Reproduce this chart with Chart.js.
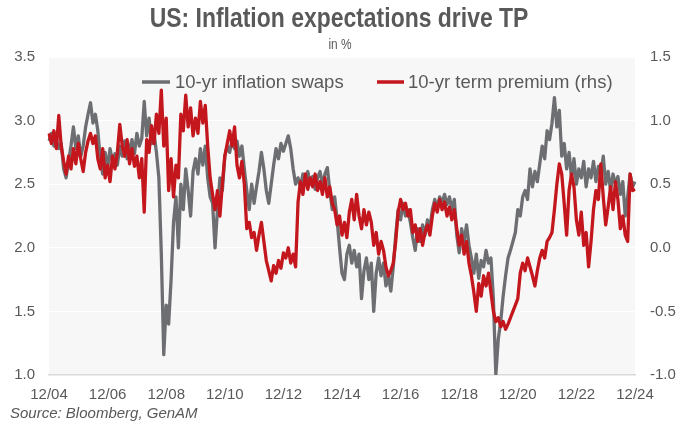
<!DOCTYPE html>
<html><head><meta charset="utf-8">
<script src="https://cdn.jsdelivr.net/npm/chart.js@4.4.1/dist/chart.umd.min.js"></script>
<style>html,body{margin:0;padding:0;background:#fff}</style>
</head><body>
<canvas id="c" width="677" height="425"></canvas>
<script>
const titleText = "US: Inflation expectations drive TP";
const subtitleText = "in %";
const sourceText = "Source: Bloomberg, GenAM";
const seriesNames = ["10-yr inflation swaps", "10-yr term premium (rhs)"];
const tickEvery = 24; // months between x tick labels

// 10-yr inflation swaps (lhs, %), monthly from 12/04 to 12/24
const inflationSwaps = [
2.84,2.90,2.80,2.86,2.78,2.82,2.62,2.55,2.68,2.80,
2.95,2.78,2.88,2.72,2.80,2.95,3.05,3.14,2.98,3.05,
2.92,2.70,2.58,2.75,2.62,2.78,2.68,2.74,2.65,2.80,
2.72,2.84,2.70,2.78,2.85,2.74,2.90,2.80,2.86,3.15,
2.88,3.02,2.82,2.90,2.75,2.55,1.95,1.16,1.55,1.40,
1.75,2.20,2.40,2.00,2.50,2.30,2.62,2.45,2.25,2.60,
2.70,2.58,2.78,2.65,2.80,2.55,2.40,2.35,2.00,2.30,
2.55,2.45,2.72,2.80,2.75,2.85,2.78,2.84,2.72,2.80,
2.62,2.45,2.30,2.50,2.35,2.48,2.60,2.75,2.62,2.45,
2.35,2.50,2.65,2.78,2.70,2.82,2.76,2.82,2.88,2.78,
2.62,2.50,2.55,2.48,2.58,2.52,2.60,2.50,2.56,2.46,
2.55,2.60,2.50,2.58,2.63,2.45,2.30,2.40,2.22,2.00,
1.80,1.75,1.95,2.02,1.88,1.98,1.85,1.95,1.60,1.82,
1.92,1.75,1.88,1.50,1.80,1.92,1.78,1.88,1.70,1.78,
1.66,1.85,2.10,2.30,2.22,2.35,2.25,2.30,2.20,2.08,
1.98,2.15,2.05,2.18,2.10,2.22,2.15,2.30,2.38,2.32,
2.40,2.35,2.42,2.34,2.40,2.30,2.38,2.10,1.96,2.15,
2.05,2.18,2.02,1.92,1.80,1.95,1.76,1.90,1.85,1.98,
1.88,1.92,1.60,1.00,1.28,1.42,1.62,1.78,1.92,1.98,
2.05,2.12,2.30,2.25,2.40,2.45,2.38,2.62,2.48,2.60,
2.52,2.66,2.80,2.70,2.92,2.85,2.98,3.18,2.95,3.08,
2.72,2.82,2.62,2.75,2.55,2.70,2.50,2.62,2.55,2.68,
2.48,2.62,2.55,2.68,2.52,2.64,2.58,2.72,2.50,2.60,
2.45,2.58,2.50,2.56,2.42,2.52,2.25,2.40,2.58,2.48,2.52
];

// 10-yr term premium (rhs, %), monthly from 12/04 to 12/24
const termPremium = [
0.90,0.82,0.92,0.78,1.04,0.80,0.68,0.58,0.72,0.62,
0.78,0.66,0.82,0.70,0.60,0.75,0.84,0.90,0.82,0.88,
0.70,0.62,0.78,0.55,0.65,0.52,0.72,0.62,0.75,0.97,
0.80,0.72,0.85,0.66,0.78,0.64,0.72,0.55,0.70,0.28,
0.85,0.75,0.96,0.82,1.05,0.90,1.24,0.80,1.02,0.45,
0.70,0.40,0.65,0.55,1.05,0.92,1.20,0.95,1.10,0.88,
1.02,0.90,1.15,0.98,1.12,0.80,0.55,0.42,0.30,0.45,
0.25,0.50,0.72,0.82,0.92,0.80,0.95,0.65,0.55,0.68,
0.50,0.15,0.20,0.08,0.12,-0.02,0.10,0.20,0.05,-0.10,
-0.18,-0.26,-0.14,-0.20,-0.10,-0.16,-0.04,-0.08,0.00,-0.12,
-0.05,-0.15,0.36,0.52,0.42,0.58,0.46,0.55,0.48,0.58,
0.45,0.52,0.42,0.55,0.40,0.48,0.35,0.30,0.18,0.25,
0.10,0.20,0.08,0.28,0.38,0.22,0.42,0.25,0.15,0.30,
0.18,0.28,0.20,0.02,0.12,-0.05,0.05,-0.02,-0.15,-0.22,
-0.18,-0.12,0.05,0.28,0.38,0.30,0.35,0.25,0.30,0.12,
0.18,0.05,0.15,0.02,0.12,0.18,0.10,0.25,0.35,0.28,
0.38,0.30,0.36,0.25,0.32,0.22,0.30,0.15,0.02,0.10,
-0.05,0.05,-0.12,-0.22,-0.35,-0.50,-0.28,-0.38,-0.22,-0.30,
-0.20,-0.35,-0.50,-0.58,-0.55,-0.62,-0.58,-0.64,-0.60,-0.55,
-0.50,-0.45,-0.40,-0.20,-0.12,-0.18,-0.08,-0.15,-0.22,-0.30,
-0.18,-0.08,-0.02,-0.08,0.05,0.08,0.12,0.30,0.50,0.66,
0.58,0.35,0.10,0.45,0.58,0.48,0.22,0.10,0.28,0.02,
0.12,-0.15,0.05,0.30,0.45,0.38,0.66,0.40,0.18,0.32,
0.48,0.30,0.52,0.38,0.15,0.25,0.10,0.05,0.58,0.45,0.46
];

// month labels MM/YY from 12/04
const months = [];
for (let i = 0; i < inflationSwaps.length; i++) {
  const m = (11 + i) % 12 + 1;
  const y = 4 + Math.floor((11 + i) / 12);
  months.push(String(m).padStart(2,'0') + '/' + String(y).padStart(2,'0'));
}

const GREY = '#6d6e71';
const RED = '#c3161d';
const TXT = '#595959';
const FONT = '"Liberation Sans", Arial, sans-serif';

function condensedText(ctx, text, cx, cy, font, sx) {
  ctx.save();
  ctx.font = font;
  ctx.textAlign = 'center';
  ctx.textBaseline = 'middle';
  ctx.translate(cx, cy);
  ctx.scale(sx, 1);
  ctx.fillText(text, 0, 0);
  ctx.restore();
}

const decor = {
  id: 'decor',
  beforeDraw(chart) {
    const {ctx, chartArea: a} = chart;
    ctx.save();
    ctx.fillStyle = '#ffffff';
    ctx.fillRect(0, 0, chart.width, chart.height);
    ctx.fillStyle = '#f7f7f7';
    ctx.fillRect(a.left, a.top, a.right - a.left, a.bottom - a.top);
    ctx.restore();
  },
  afterDatasetsDraw(chart) {
    const ctx = chart.ctx;
    ctx.save();
    const ly = 82;
    const items = [
      {c: GREY, x0: 142, x1: 170, tx: 175, t: seriesNames[0]},
      {c: RED, x0: 377, x1: 404, tx: 408, t: seriesNames[1]}
    ];
    ctx.font = '18.5px ' + FONT;
    ctx.textBaseline = 'middle';
    ctx.textAlign = 'left';
    for (const it of items) {
      ctx.strokeStyle = it.c; ctx.lineWidth = 3.5; ctx.lineCap = 'butt';
      ctx.beginPath(); ctx.moveTo(it.x0, ly); ctx.lineTo(it.x1, ly); ctx.stroke();
      ctx.fillStyle = TXT;
      ctx.fillText(it.t, it.tx, ly + 1);
    }
    ctx.restore();
  },
  afterDraw(chart) {
    const ctx = chart.ctx;
    ctx.save();
    ctx.fillStyle = TXT;
    condensedText(ctx, titleText, 339, 20, 'bold 27px ' + FONT, 0.85);
    condensedText(ctx, subtitleText, 340, 45, '14px ' + FONT, 0.85);
    ctx.textAlign = 'left';
    ctx.textBaseline = 'middle';
    ctx.font = 'italic 15px ' + FONT;
    ctx.fillText(sourceText, 10, 414);
    ctx.restore();
  }
};

new Chart(document.getElementById('c'), {
  type: 'line',
  data: {
    labels: months,
    datasets: [
      {label: seriesNames[0], data: inflationSwaps, yAxisID: 'y', borderColor: GREY, backgroundColor: GREY,
       borderWidth: 3.3, pointRadius: 0, tension: 0, borderJoinStyle: 'round', order: 1},
      {label: seriesNames[1], data: termPremium, yAxisID: 'y1', borderColor: RED, backgroundColor: RED,
       borderWidth: 3.3, pointRadius: 0, tension: 0, borderJoinStyle: 'round', order: 0}
    ]
  },
  options: {
    responsive: false,
    animation: false,
    devicePixelRatio: 1,
    layout: {padding: {top: 57, bottom: 20, left: 0, right: 0}},
    plugins: {legend: {display: false}, tooltip: {enabled: false}, title: {display: false}},
    scales: {
      x: {
        type: 'category', offset: false,
        grid: {display: false, drawTicks: false},
        border: {display: true, color: '#d9d9d9', width: 1.5},
        ticks: {autoSkip: false, maxRotation: 0, minRotation: 0, color: TXT, padding: 11,
          font: {size: 15, family: FONT},
          callback: (v, i) => (i % tickEvery === 0 ? months[i] : null)},
        afterFit(s) { s.height = 30; }
      },
      y: {
        type: 'linear', position: 'left', min: 1.0, max: 3.5,
        grid: {color: '#ffffff', lineWidth: 1, drawTicks: false},
        border: {display: false},
        ticks: {stepSize: 0.5, color: TXT, padding: 14, font: {size: 15, family: FONT},
          callback: v => Number(v).toFixed(1)},
        afterFit(s) { s.width = 49; }
      },
      y1: {
        type: 'linear', position: 'right', min: -1.0, max: 1.5,
        grid: {drawOnChartArea: false, drawTicks: false},
        border: {display: false},
        ticks: {stepSize: 0.5, color: TXT, padding: 15, font: {size: 15, family: FONT},
          callback: v => Number(v).toFixed(1)},
        afterFit(s) { s.width = 42; }
      }
    }
  },
  plugins: [decor]
});
</script>
</body></html>
